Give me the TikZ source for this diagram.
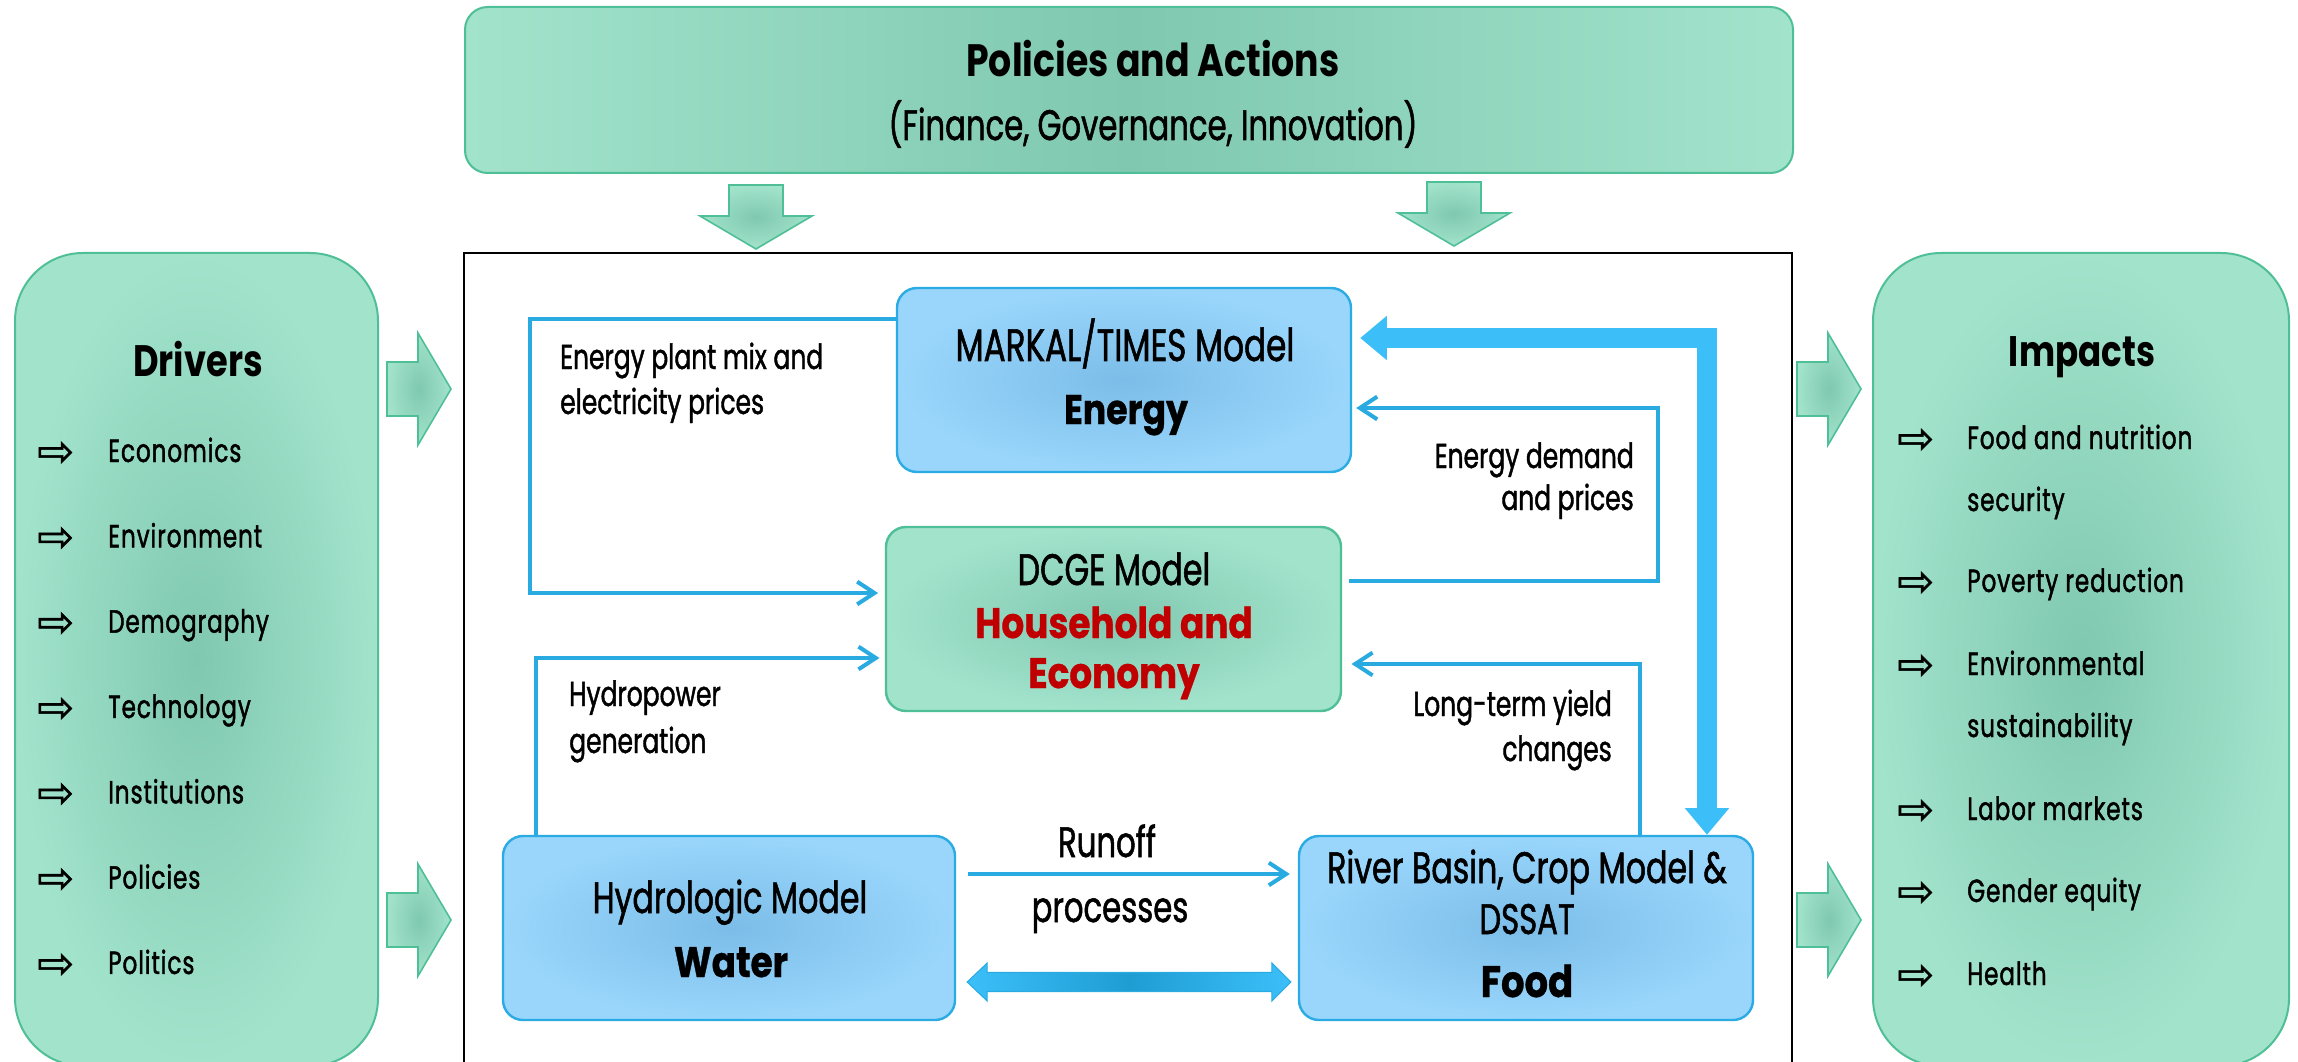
\documentclass[tikz,border=0pt]{standalone}
\usepackage{fontspec}
\setmainfont{Poppins}
\newfontfamily\narrowfont[FakeStretch=0.72, FakeBold=1.2]{Poppins}
\newfontfamily\heavyfont[FakeStretch=0.84, FakeBold=0.8]{Poppins}
\newfontfamily\listfont[FakeStretch=0.72, FakeBold=1.4, LetterSpace=3]{Poppins}
\newfontfamily\titlefont[FakeStretch=0.8]{Poppins}
\newfontfamily\symbolfont[FakeBold=1.2]{DejaVu Sans}
\usetikzlibrary{arrows.meta,calc,fit}

\definecolor{mintlight}{HTML}{A2E3CC}
\definecolor{mintdark}{HTML}{80C8B0}
\definecolor{mintedge}{HTML}{4FBF98}
\definecolor{skylight}{HTML}{9AD6FC}
\definecolor{skydark}{HTML}{7BBDE8}
\definecolor{skyedge}{HTML}{2AABE3}
\definecolor{linkblue}{HTML}{29ABE2}
\definecolor{flowblue}{HTML}{3CBFF9}
\definecolor{flowdeep}{HTML}{1E9DD3}
\definecolor{accentred}{HTML}{C00000}

\tikzset{
  panel/.style={draw=mintedge, line width=1.5pt, inner sep=0pt, rounded corners=51pt,
    inner color=mintdark, outer color=mintlight},
  banner/.style={draw=mintedge, line width=1.5pt, inner sep=0pt, rounded corners=17pt,
    left color=mintlight, right color=mintlight, middle color=mintdark},
  modelbox/.style={draw=skyedge, line width=1.8pt, inner sep=0pt, rounded corners=15pt,
    inner color=skydark, outer color=skylight},
  econbox/.style={draw=mintedge, line width=1.8pt, inner sep=0pt, rounded corners=15pt,
    inner color=mintdark, outer color=mintlight},
  modelframe/.style={draw=black, line width=1.9pt, inner sep=0pt},
  link/.style={draw=linkblue, line width=3pt, line join=miter,
    -{Straight Barb[length=13pt,width=17pt]}},
  thickflow/.style={draw=flowblue, line width=15pt, line join=miter,
    {Triangle[length=20pt,width=32pt]}-{Triangle[length=20pt,width=32pt]}},
  ctext/.style={inner sep=0pt, font=\narrowfont\fontsize{#1}{#1}\selectfont},
  btext/.style={inner sep=0pt, font=\heavyfont\bfseries\fontsize{#1}{#1}\selectfont},
  titletext/.style={inner sep=0pt, font=\titlefont\bfseries\fontsize{#1}{#1}\selectfont},
  itemtext/.style={inner sep=0pt, font=\listfont\fontsize{24}{24}\selectfont},
  itemmark/.style={inner sep=0pt, font=\symbolfont\fontsize{33}{33}\selectfont},
  blockarrow/.pic={
    \path[draw=mintedge, line width=1.2pt, inner color=mintdark, outer color=mintlight]
      (0,-27) -- (31,-27) -- (31,-56) -- (64,0) -- (31,56) -- (31,27) -- (0,27) -- cycle;
  }
}

\begin{document}
\begin{tikzpicture}[x=0.75pt,y=-0.75pt]
\useasboundingbox (0,0) rectangle (2298,1062);
\clip (0,0) rectangle (2298,1062);
\fill[white] (0,0) rectangle (2298,1062);

% outer panels
\node[banner, fit={(465,7) (1793,173)}] (policies) {};
\node[modelframe, fit={(464,253) (1792,1090)}] (models) {};
\node[panel, fit={(15,253) (378,1066)}] (drivers) {};
\node[panel, fit={(1873,253) (2289,1066)}] (impacts) {};

% block arrows into and out of the model frame
\pic at (756,185) [rotate=-90] {blockarrow};
\pic at (1454,182) [rotate=-90] {blockarrow};
\pic at (387,389) {blockarrow};
\pic at (387,920) {blockarrow};
\pic at (1797,389) {blockarrow};
\pic at (1797,920) {blockarrow};

% model boxes
\node[modelbox, fit={(897,288) (1351,472)}] (energy) {};
\node[econbox, fit={(886,527) (1341,711)}] (dcge) {};
\node[modelbox, fit={(503,836) (955,1020)}] (water) {};
\node[modelbox, fit={(1299,836) (1753,1020)}] (food) {};

% policies
\node[titletext=34, anchor=base] (polTitle) at (1153,77) {Policies and Actions};
\node[ctext=32, anchor=base] (polSub) at (1153,140) {(Finance, Governance, Innovation)};

% drivers list
\node[titletext=33, anchor=base] (drvTitle) at (198,377) {Drivers};
\foreach \t [count=\i] in {Economics,Environment,Demography,Technology,Institutions,Policies,Politics} {
  \pgfmathsetmacro\yb{462+85.33*(\i-1)}
  \node[itemmark, anchor=west] (drvMark\i) at (37,\yb-8) {⇨};
  \node[itemtext, anchor=base west] (drvItem\i) at (108,\yb) {\t};
}

% impacts list
\node[titletext=32, anchor=base] (impTitle) at (2082,367) {Impacts};
\foreach \t/\yb [count=\i] in {Food and nutrition/449, Poverty reduction/592,
    Environmental/675, Labor markets/820, Gender equity/902, Health/985} {
  \node[itemmark, anchor=west] (impMark\i) at (1897,\yb-8) {⇨};
  \node[itemtext, anchor=base west] (impItem\i) at (1967,\yb) {\t};
}
\node[itemtext, anchor=base west] (impItemA) at (1967,511) {security};
\node[itemtext, anchor=base west] (impItemB) at (1967,737) {sustainability};

% texts inside the model boxes
\node[ctext=34, anchor=base] (energyName) at (1125,361) {MARKAL/TIMES Model};
\node[btext=31, anchor=base] (energySector) at (1126,424) {Energy};
\node[ctext=33, anchor=base] (dcgeName) at (1114,585) {DCGE Model};
\node[btext=32, anchor=base, text=accentred] (dcgeSector1) at (1114,638) {Household and};
\node[btext=32, anchor=base, text=accentred] (dcgeSector2) at (1114,688) {Economy};
\node[ctext=33, anchor=base] (waterName) at (730,913) {Hydrologic Model};
\node[btext=32, anchor=base] (waterSector) at (731,977) {Water};
\node[ctext=33, anchor=base] (foodName1) at (1527,883) {River Basin, Crop Model \&};
\node[ctext=32, anchor=base] (foodName2) at (1527,934) {DSSAT};
\node[btext=33, anchor=base] (foodSector) at (1527,997) {Food};

% connector labels
\node[ctext=26, anchor=base west] (epmText1) at (560,369) {Energy plant mix and};
\node[ctext=26, anchor=base west] (epmText2) at (560,414) {electricity prices};
\node[ctext=26, anchor=base west] (hydText1) at (569,706) {Hydropower};
\node[ctext=26, anchor=base west] (hydText2) at (569,753) {generation};
\node[ctext=26, anchor=base east] (edpText1) at (1634,468) {Energy demand};
\node[ctext=26, anchor=base east] (edpText2) at (1634,510) {and prices};
\node[ctext=26, anchor=base east] (ltyText1) at (1612,716) {Long-term yield};
\node[ctext=26, anchor=base east] (ltyText2) at (1612,761) {changes};
\node[ctext=32, anchor=base] (roText1) at (1107,857) {Runoff};
\node[ctext=32, anchor=base] (roText2) at (1110,922) {processes};

% connectors
\coordinate (epA) at (530,319);
\coordinate (epB) at (530,593);
\draw[link, shorten >=5pt] (energy.west |- epA) -- (epA) -- (epB) -- (dcge.west |- epB);

\coordinate (hy) at (536,658);
\draw[link, shorten >=4pt] (water.north -| hy) -- (hy) -- (dcge.west |- hy);

\coordinate (edA) at (1658,581);
\coordinate (edB) at (1658,408);
\draw[link, shorten <=5pt, shorten >=3pt] (dcge.east |- edA) -- (edA) -- (edB) -- (energy.east |- edB);

\coordinate (ly) at (1640,664);
\draw[link, shorten >=7pt] (food.north -| ly) -- (ly) -- (dcge.east |- ly);

\coordinate (ta) at (1707,338);
\draw[thickflow, shorten <=6pt] (energy.east |- ta) -- (ta) -- (food.north -| ta);

\coordinate (ro) at (1120,874);
\draw[link, shorten <=9pt, shorten >=6pt] (water.east |- ro) -- (food.west |- ro);

% two-way exchange between water and food
\coordinate (bflow) at (1120,982);
\coordinate (bL) at ($(water.east |- bflow)+(11,0)$);
\coordinate (bR) at ($(food.west |- bflow)+(-7,0)$);
\path[left color=flowblue, right color=flowblue, middle color=flowdeep, draw=linkblue, line width=0.8pt]
  (bL) -- ($(bL)+(20,-19)$) -- ($(bL)+(20,-9.5)$) -- ($(bR)+(-19,-9.5)$) -- ($(bR)+(-19,-19)$)
  -- (bR) -- ($(bR)+(-19,19)$) -- ($(bR)+(-19,9.5)$) -- ($(bL)+(20,9.5)$) -- ($(bL)+(20,19)$) -- cycle;
\end{tikzpicture}
\end{document}
